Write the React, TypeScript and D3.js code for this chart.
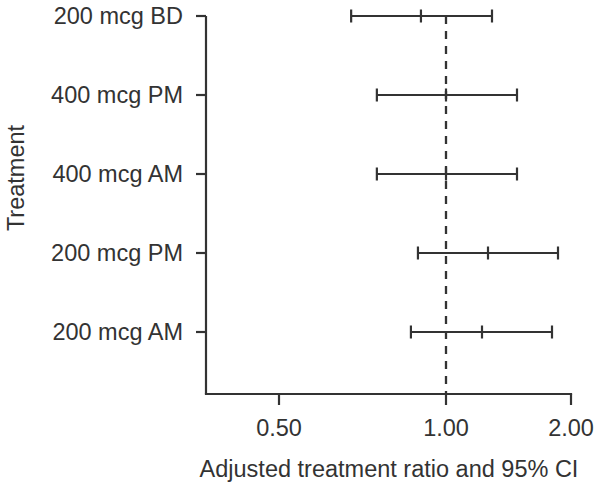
import React, { useEffect, useRef } from "react";
import * as d3 from "d3";

const treatments = ["200 mcg BD", "400 mcg PM", "400 mcg AM", "200 mcg PM", "200 mcg AM"];
const ratio = [0.925, 1.0, 1.0, 1.336, 1.288];
const lower = [0.716, 0.793, 0.793, 0.916, 0.895];
const upper = [1.368, 1.568, 1.568, 1.896, 1.848];
const xTicks = [0.5, 1, 2];

const W = 600,
  H = 489;
const ink = "#333333";

const App = () => {
  const ref = useRef<SVGSVGElement>(null);

  useEffect(() => {
    const svg = d3.select(ref.current);
    svg.selectAll("*").remove();

    const left = 206,
      right = 571,
      top = 16,
      bottom = 394;

    // axis as drawn in the source is not evenly logarithmic, so map piecewise
    const x = d3.scaleLinear().domain([0.5, 1, 2]).range([279, 446, right]);
    const y = d3.scalePoint().domain(treatments).range([top, 332]);

    const font = "'Liberation Sans', Arial, sans-serif";
    const fs = 23.5;

    // y axis
    svg
      .append("line")
      .attr("x1", left)
      .attr("x2", left)
      .attr("y1", top)
      .attr("y2", bottom)
      .attr("stroke", ink)
      .attr("stroke-width", 2.2);

    const yt = svg
      .append("g")
      .selectAll("g")
      .data(treatments)
      .join("g")
      .attr("transform", (d) => `translate(${left},${y(d)})`);
    yt.append("line").attr("x1", -10).attr("x2", 0).attr("stroke", ink).attr("stroke-width", 2.2);
    yt.append("text")
      .attr("x", -23)
      .attr("dy", "0.35em")
      .attr("text-anchor", "end")
      .attr("font-family", font)
      .attr("font-size", fs)
      .attr("fill", ink)
      .text((d) => d);

    // x axis
    svg
      .append("line")
      .attr("x1", left - 1.1)
      .attr("x2", right + 1.1)
      .attr("y1", bottom)
      .attr("y2", bottom)
      .attr("stroke", ink)
      .attr("stroke-width", 2.2);

    const xt = svg
      .append("g")
      .selectAll("g")
      .data(xTicks)
      .join("g")
      .attr("transform", (d) => `translate(${x(d)},${bottom})`);
    xt.append("line").attr("y1", 0).attr("y2", 11).attr("stroke", ink).attr("stroke-width", 2.2);
    xt.append("text")
      .attr("y", 42)
      .attr("text-anchor", "middle")
      .attr("font-family", font)
      .attr("font-size", fs)
      .attr("fill", ink)
      .text((d) => d3.format(".2f")(d));

    svg
      .append("text")
      .attr("x", 389)
      .attr("y", 477)
      .attr("text-anchor", "middle")
      .attr("font-family", font)
      .attr("font-size", fs)
      .attr("fill", ink)
      .text("Adjusted treatment ratio and 95% CI");

    svg
      .append("text")
      .attr("transform", `translate(24,178) rotate(-90)`)
      .attr("text-anchor", "middle")
      .attr("font-family", font)
      .attr("font-size", fs)
      .attr("fill", ink)
      .text("Treatment");

    // reference line at 1
    svg
      .append("line")
      .attr("x1", x(1))
      .attr("x2", x(1))
      .attr("y1", top)
      .attr("y2", bottom)
      .attr("stroke", ink)
      .attr("stroke-width", 2.3)
      .attr("stroke-dasharray", "8,7");

    // intervals
    const rows = treatments.map((t, i) => ({ t, lo: lower[i], mid: ratio[i], hi: upper[i] }));
    const g = svg
      .append("g")
      .selectAll("g")
      .data(rows)
      .join("g")
      .attr("transform", (d) => `translate(0,${y(d.t)})`);
    g.append("line")
      .attr("x1", (d) => x(d.lo))
      .attr("x2", (d) => x(d.hi))
      .attr("stroke", ink)
      .attr("stroke-width", 2.2);
    g.selectAll("line.cap")
      .data((d) => [d.lo, d.mid, d.hi])
      .join("line")
      .attr("class", "cap")
      .attr("x1", (v) => x(v))
      .attr("x2", (v) => x(v))
      .attr("y1", -6.5)
      .attr("y2", 6.5)
      .attr("stroke", ink)
      .attr("stroke-width", 2.2);
  }, []);

  return (
    <svg
      ref={ref}
      width={W}
      height={H}
      style={{ position: "absolute", left: 0, top: 0, background: "#fff" }}
    />
  );
};

export default App;
